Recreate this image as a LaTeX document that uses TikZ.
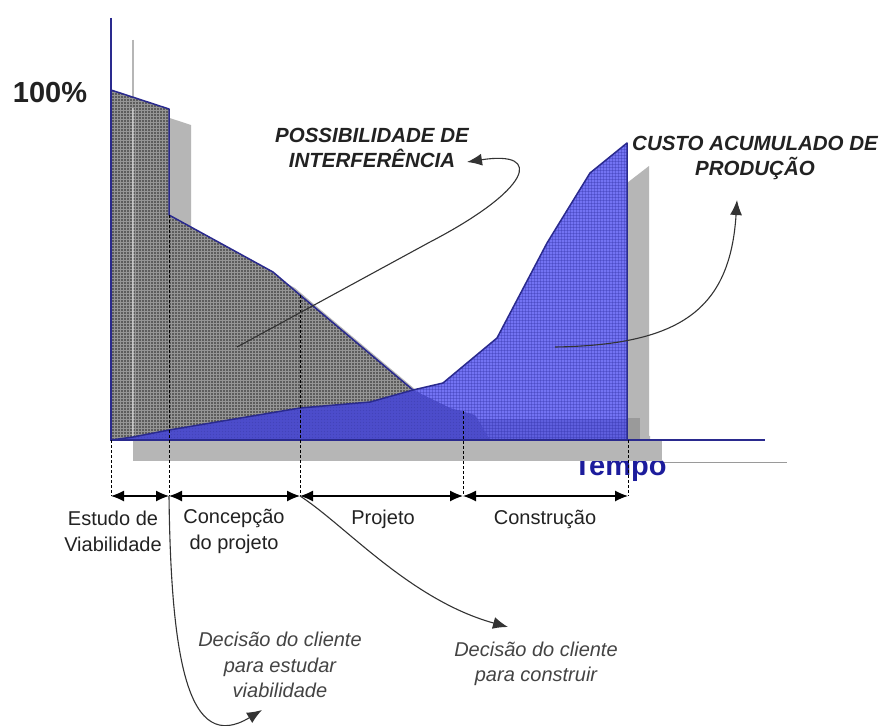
\documentclass[tikz,border=0pt]{standalone}
\usepackage{fontspec}
\setmainfont{Liberation Sans}
\usetikzlibrary{arrows.meta,patterns}
\definecolor{darkfill}{HTML}{5C5C5C}
\definecolor{tailfill}{HTML}{A4A4A4}
\definecolor{shadowgray}{HTML}{B6B6B6}
\definecolor{shadowdark}{HTML}{9A9A9A}
\definecolor{bluefill}{RGB}{72,72,240}
\definecolor{navy}{HTML}{2A2A8E}
\definecolor{tempoblue}{HTML}{1C1C9C}
\definecolor{txt}{HTML}{222222}
\definecolor{ittxt}{HTML}{444444}
\tikzset{
  phase/.style={font=\fontsize{20}{26}\selectfont, text=txt, align=center, inner sep=0pt},
  callout/.style={font=\fontsize{20.5}{24.5}\selectfont\bfseries\itshape, text=txt, align=center, inner sep=0pt},
  decision/.style={font=\fontsize{20}{25.5}\selectfont\itshape, text=ittxt, align=center, inner sep=0pt},
  guide/.style={black, densely dashed, line width=0.8pt},
  span/.style={black, line width=1.2pt, {Latex[length=13pt,width=11pt]}-{Latex[length=13pt,width=11pt]}},
  pointer/.style={black!80, line width=1.1pt, -{Latex[length=15pt,width=12pt]}},
  texture/.style={pattern=grid, pattern color=#1},
}
\begin{document}
\begin{tikzpicture}[x=1pt,y=-1pt]
\useasboundingbox (0,0) rectangle (882,725);
\fill[white] (0,0) rectangle (882,725);

% ---- shadows
\fill[shadowgray] (133,106) -- (191,125) -- (191,231) -- (295,288) -- (322,311) -- (435,406) -- (472,424) -- (512,434) -- (650,436) -- (650,458) -- (133,458) -- cycle;
\fill[shadowgray] (627,183) -- (649,166) -- (649,440) -- (627,440) -- cycle;
\fill[shadowdark] (627,418) rectangle (640,440);
\draw[shadowdark, line width=1pt] (662,462) -- (787,462);
\draw[shadowgray, line width=2pt] (133,40) -- (133,108);

% ---- Tempo (partly hidden by the shadow band)
\node[font=\fontsize{29}{30}\selectfont\bfseries, text=tempoblue, anchor=base, inner sep=0pt] (tempo) at (620,475) {Tempo};
\fill[shadowgray] (133,440) rectangle (662,461);

% ---- possibility curve (dark) and its faint tail
\fill[tailfill] (460,419) rectangle (628,440);
\fill[darkfill] (111,90) -- (169,109) -- (169,215) -- (273,272) -- (300,295) -- (413,390) -- (450,408) -- (475,415) -- (490,440) -- (111,440) -- cycle;
\fill[texture=white!35!darkfill] (111,90) -- (169,109) -- (169,215) -- (273,272) -- (300,295) -- (413,390) -- (450,408) -- (475,415) -- (490,440) -- (111,440) -- cycle;
\draw[navy, line width=1.5pt, line join=round] (111,90) -- (169,109) -- (169,215) -- (273,272) -- (300,295) -- (413,390);

% light stripe of the axis shadow
\draw[white, opacity=0.45, line width=2pt] (133,108) -- (133,437);

% ---- cumulative cost curve (blue)
\fill[bluefill, opacity=0.76] (111,440) -- (133,437) -- (169,430) -- (300,408) -- (370,402) -- (413,390) -- (443,383) -- (497,338) -- (547,243) -- (590,173) -- (627,143) -- (627,440) -- cycle;
\fill[texture=bluefill!70!black, opacity=0.35] (111,440) -- (133,437) -- (169,430) -- (300,408) -- (370,402) -- (413,390) -- (443,383) -- (497,338) -- (547,243) -- (590,173) -- (627,143) -- (627,440) -- cycle;
\draw[navy, line width=1.5pt, line join=round] (111,440) -- (133,437) -- (169,430) -- (300,408) -- (370,402) -- (413,390) -- (443,383) -- (497,338) -- (547,243) -- (590,173) -- (627,143) -- (627,440);

% ---- axes
\draw[navy, line width=1.5pt] (111,18) -- (111,440) -- (765,440);

% ---- guides
\coordinate (g0) at (111,440); \coordinate (b0) at (111,496);
\coordinate (g1) at (169,215); \coordinate (b1) at (169,496);
\coordinate (g2) at (300,295); \coordinate (b2) at (300,496);
\coordinate (g3) at (463,411); \coordinate (b3) at (463,496);
\coordinate (g4) at (628,440); \coordinate (b4) at (628,496);
\draw[guide] (g0) -- (b0);
\draw[guide] (g1) -- (b1);
\draw[guide] (g2) -- (b2);
\draw[guide] (g3) -- (b3);
\draw[guide] (g4) -- (b4);
\draw[span] (b0) -- (b1);
\draw[span] (b1) -- (b2);
\draw[span] (b2) -- (b3);
\draw[span] (b3) -- (b4);

% ---- labels
\node[font=\fontsize{29}{30}\selectfont\bfseries, text=txt, inner sep=0pt] (pct) at (50,93) {100\%};
\node[callout] (poss) at (372,148) {POSSIBILIDADE DE\\INTERFER\^ENCIA};
\node[callout] (custo) at (755,158) {CUSTO ACUMULADO DE\\PRODU\c{C}\~AO};
\node[phase] (estudo) at (113,531) {Estudo de\\Viabilidade};
\node[phase] (concep) at (234,531) {Concep\c{c}\~ao\\do projeto};
\node[phase, anchor=base] (projeto) at (383,524) {Projeto};
\node[phase, anchor=base] (constr) at (545,524) {Constru\c{c}\~ao};
\node[decision] (dec1) at (280,665) {Decis\~ao do cliente\\para estudar\\viabilidade};
\node[decision] (dec2) at (536,664) {Decis\~ao do cliente\\para construir};

% ---- pointer arrows
\coordinate (p1s) at (237,347);
\coordinate (p1b) at (430,242);
\coordinate (p1e) at (467,162);
\draw[pointer] (p1s) -- (p1b) .. controls (530,190) and (545,150) .. (p1e);
\coordinate (p2s) at (555,347);
\coordinate (p2e) at (737,200);
\draw[pointer] (p2s) .. controls (680,345) and (730,310) .. (p2e);
\coordinate (p3e) at (262,710);
\draw[pointer] (b1) .. controls (171,660) and (188,755) .. (p3e);
\coordinate (p4e) at (508,627);
\draw[pointer] (b2) .. controls (345,525) and (410,600) .. (p4e);
\end{tikzpicture}
\end{document}
